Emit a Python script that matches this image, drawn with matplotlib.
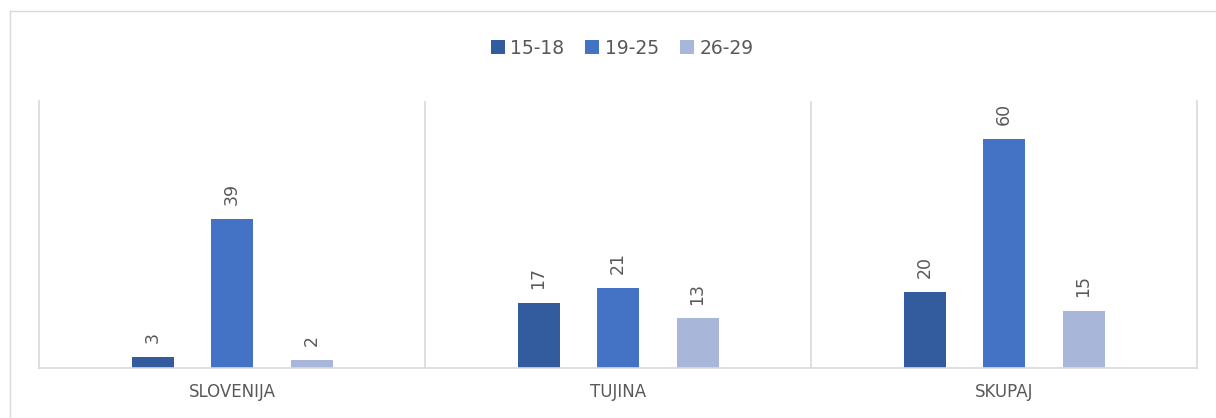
import numpy as np
import matplotlib.pyplot as plt
from matplotlib.lines import Line2D

categories = ['SLOVENIJA', 'TUJINA', 'SKUPAJ']
series_names = ['15-18', '19-25', '26-29']
v_15_18 = [3, 17, 20]
v_19_25 = [39, 21, 60]
v_26_29 = [2, 13, 15]

colors = ['#335C9F', '#4472C4', '#A8B6DA']
grey = '#595959'
line_grey = '#D9D9D9'

fig = plt.figure(figsize=(12.16, 4.18), dpi=100)
ax = fig.add_axes([39 / 1216, 50 / 418, 1158 / 1216, 267 / 418])

x = np.arange(len(categories))
step = 79.5 / 386
width = 42 / 386
for i, (name, vals) in enumerate(zip(series_names, [v_15_18, v_19_25, v_26_29])):
    bars = ax.bar(x + (i - 1) * step, vals, width, color=colors[i], label=name, zorder=2)
    for b, v in zip(bars, vals):
        ax.annotate(str(v), (b.get_x() + b.get_width() / 2, v), xytext=(0, 10),
                    textcoords='offset points', rotation=90, ha='center', va='bottom',
                    fontsize=12.5, color=grey)

ax.set_xlim(-0.5, 2.5)
ax.set_ylim(0, 70)
ax.set_yticks([])
ax.set_xticks(x)
ax.set_xticklabels(categories, fontsize=12, color=grey)
ax.tick_params(axis='x', length=0, pad=11)
for xb in [0.5, 1.5]:
    ax.axvline(xb, color=line_grey, lw=1.2, zorder=1)
ax.spines['top'].set_visible(False)
for s in ['left', 'right', 'bottom']:
    ax.spines[s].set_color(line_grey)
    ax.spines[s].set_linewidth(1.2)

fig.legend(loc='center', bbox_to_anchor=(622 / 1216, 1 - 48 / 418), ncol=3, frameon=False,
           fontsize=13.5, labelcolor=grey, handlelength=0.75, handleheight=0.75,
           handletextpad=0.3, columnspacing=1.1)

# outer chart border
fig.add_artist(Line2D([10 / 1216, 10 / 1216], [0, 1 - 11 / 418], transform=fig.transFigure,
                      color=line_grey, lw=1))
fig.add_artist(Line2D([10 / 1216, 1], [1 - 11 / 418, 1 - 11 / 418], transform=fig.transFigure,
                      color=line_grey, lw=1))

fig.savefig('out.png', dpi=100)
